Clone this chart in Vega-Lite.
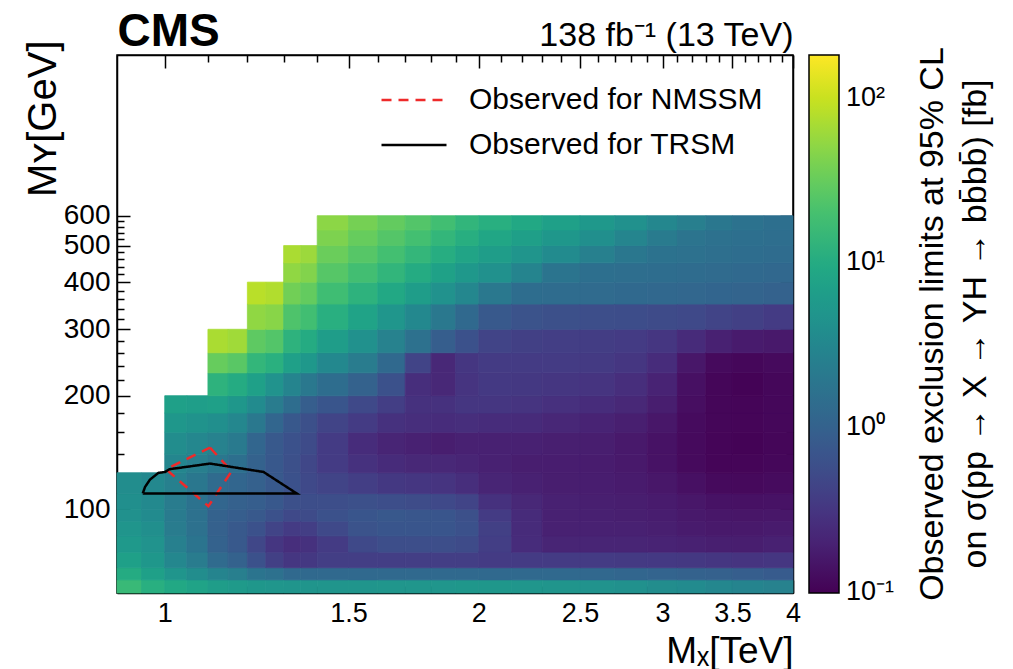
{
"$schema": "https://vega.github.io/schema/vega-lite/v6.json",
"width": 676,
"height": 538,
"autosize": {"type": "none"},
"padding": {"left": 117, "top": 55, "right": 220, "bottom": 76},
"background": "white",
"config": {
  "font": "Liberation Sans",
  "view": {"stroke": "black", "strokeWidth": 1.5},
  "axis": {"grid": false, "zindex": 1, "domainColor": "black", "domainWidth": 1.5, "tickColor": "black", "tickWidth": 1.5, "labelColor": "black", "titleColor": "black", "labelFontSize": 27, "titleFontSize": 40, "titleFontWeight": "normal", "labelFont": "Liberation Sans", "titleFont": "Liberation Sans", "labelFlush": false, "labelOverlap": false},
  "legend": {"labelFont": "Liberation Sans", "labelColor": "black"}
},
"title": {
  "text": ["Observed exclusion limits at 95% CL", "on σ(pp → X → YH → bb̄bb̄) [fb]"],
  "orient": "right", "angle": -90, "baseline": "top", "anchor": "middle", "frame": "group",
  "fontSize": 34, "fontWeight": "normal", "font": "Liberation Sans", "color": "black", "offset": -56, "lineHeight": 43
},
"resolve": {"axis": {"x": "independent", "y": "independent"}, "scale": {"stroke": "independent", "strokeDash": "independent"}},
"datasets": {
"grid": [
{"x":0.9,"x2":0.95,"y":60,"y2":65,"fb":15.8},{"x":0.9,"x2":0.95,"y":65,"y2":70,"fb":10},{"x":0.9,"x2":0.95,"y":70,"y2":77,"fb":7.08},{"x":0.9,"x2":0.95,"y":77,"y2":85,"fb":5.62},{"x":0.9,"x2":0.95,"y":85,"y2":93,"fb":4.79},{"x":0.9,"x2":0.95,"y":93,"y2":100,"fb":4.27},{"x":0.9,"x2":0.95,"y":100,"y2":110,"fb":3.98},{"x":0.9,"x2":0.95,"y":110,"y2":125,"fb":3.8},
{"x":0.95,"x2":1.0,"y":60,"y2":65,"fb":11.2},{"x":0.95,"x2":1.0,"y":65,"y2":70,"fb":7.08},{"x":0.95,"x2":1.0,"y":70,"y2":77,"fb":5.25},{"x":0.95,"x2":1.0,"y":77,"y2":85,"fb":4.47},{"x":0.95,"x2":1.0,"y":85,"y2":93,"fb":3.98},{"x":0.95,"x2":1.0,"y":93,"y2":100,"fb":3.55},{"x":0.95,"x2":1.0,"y":100,"y2":110,"fb":3.39},{"x":0.95,"x2":1.0,"y":110,"y2":125,"fb":3.31},
{"x":1.0,"x2":1.05,"y":60,"y2":65,"fb":8.91},{"x":1.0,"x2":1.05,"y":65,"y2":70,"fb":4.79},{"x":1.0,"x2":1.05,"y":70,"y2":77,"fb":3.16},{"x":1.0,"x2":1.05,"y":77,"y2":85,"fb":2.51},{"x":1.0,"x2":1.05,"y":85,"y2":93,"fb":2.24},{"x":1.0,"x2":1.05,"y":93,"y2":100,"fb":2.14},{"x":1.0,"x2":1.05,"y":100,"y2":110,"fb":2.24},{"x":1.0,"x2":1.05,"y":110,"y2":125,"fb":2.51},{"x":1.0,"x2":1.05,"y":125,"y2":140,"fb":3.02},{"x":1.0,"x2":1.05,"y":140,"y2":160,"fb":3.8},{"x":1.0,"x2":1.05,"y":160,"y2":180,"fb":5.25},{"x":1.0,"x2":1.05,"y":180,"y2":200,"fb":7.08},
{"x":1.05,"x2":1.1,"y":60,"y2":65,"fb":7.59},{"x":1.05,"x2":1.1,"y":65,"y2":70,"fb":3.8},{"x":1.05,"x2":1.1,"y":70,"y2":77,"fb":2.24},{"x":1.05,"x2":1.1,"y":77,"y2":85,"fb":1.78},{"x":1.05,"x2":1.1,"y":85,"y2":93,"fb":1.58},{"x":1.05,"x2":1.1,"y":93,"y2":100,"fb":1.58},{"x":1.05,"x2":1.1,"y":100,"y2":110,"fb":1.66},{"x":1.05,"x2":1.1,"y":110,"y2":125,"fb":1.91},{"x":1.05,"x2":1.1,"y":125,"y2":140,"fb":2.4},{"x":1.05,"x2":1.1,"y":140,"y2":160,"fb":3.16},{"x":1.05,"x2":1.1,"y":160,"y2":180,"fb":4.57},{"x":1.05,"x2":1.1,"y":180,"y2":200,"fb":6.61},
{"x":1.1,"x2":1.15,"y":60,"y2":65,"fb":6.31},{"x":1.1,"x2":1.15,"y":65,"y2":70,"fb":2.82},{"x":1.1,"x2":1.15,"y":70,"y2":77,"fb":1.32},{"x":1.1,"x2":1.15,"y":77,"y2":85,"fb":1.0},{"x":1.1,"x2":1.15,"y":85,"y2":93,"fb":0.955},{"x":1.1,"x2":1.15,"y":93,"y2":100,"fb":1.0},{"x":1.1,"x2":1.15,"y":100,"y2":110,"fb":1.12},{"x":1.1,"x2":1.15,"y":110,"y2":125,"fb":1.32},{"x":1.1,"x2":1.15,"y":125,"y2":140,"fb":1.91},{"x":1.1,"x2":1.15,"y":140,"y2":160,"fb":2.63},{"x":1.1,"x2":1.15,"y":160,"y2":180,"fb":3.98},{"x":1.1,"x2":1.15,"y":180,"y2":200,"fb":7.08},{"x":1.1,"x2":1.15,"y":200,"y2":230,"fb":12.6},{"x":1.1,"x2":1.15,"y":230,"y2":260,"fb":31.6},{"x":1.1,"x2":1.15,"y":260,"y2":300,"fb":70.8},
{"x":1.15,"x2":1.2,"y":60,"y2":65,"fb":5.75},{"x":1.15,"x2":1.2,"y":65,"y2":70,"fb":2.4},{"x":1.15,"x2":1.2,"y":70,"y2":77,"fb":1.0},{"x":1.15,"x2":1.2,"y":77,"y2":85,"fb":0.794},{"x":1.15,"x2":1.2,"y":85,"y2":93,"fb":0.794},{"x":1.15,"x2":1.2,"y":93,"y2":100,"fb":0.891},{"x":1.15,"x2":1.2,"y":100,"y2":110,"fb":0.955},{"x":1.15,"x2":1.2,"y":110,"y2":125,"fb":1.12},{"x":1.15,"x2":1.2,"y":125,"y2":140,"fb":1.51},{"x":1.15,"x2":1.2,"y":140,"y2":160,"fb":2.09},{"x":1.15,"x2":1.2,"y":160,"y2":180,"fb":3.16},{"x":1.15,"x2":1.2,"y":180,"y2":200,"fb":5.25},{"x":1.15,"x2":1.2,"y":200,"y2":230,"fb":10},{"x":1.15,"x2":1.2,"y":230,"y2":260,"fb":26.3},{"x":1.15,"x2":1.2,"y":260,"y2":300,"fb":63.1},
{"x":1.2,"x2":1.25,"y":60,"y2":65,"fb":5.25},{"x":1.2,"x2":1.25,"y":65,"y2":70,"fb":1.78},{"x":1.2,"x2":1.25,"y":70,"y2":77,"fb":0.631},{"x":1.2,"x2":1.25,"y":77,"y2":85,"fb":0.479},{"x":1.2,"x2":1.25,"y":85,"y2":93,"fb":0.631},{"x":1.2,"x2":1.25,"y":93,"y2":100,"fb":0.794},{"x":1.2,"x2":1.25,"y":100,"y2":110,"fb":0.891},{"x":1.2,"x2":1.25,"y":110,"y2":125,"fb":0.955},{"x":1.2,"x2":1.25,"y":125,"y2":140,"fb":1.0},{"x":1.2,"x2":1.25,"y":140,"y2":160,"fb":1.12},{"x":1.2,"x2":1.25,"y":160,"y2":180,"fb":2.0},{"x":1.2,"x2":1.25,"y":180,"y2":200,"fb":3.55},{"x":1.2,"x2":1.25,"y":200,"y2":230,"fb":7.08},{"x":1.2,"x2":1.25,"y":230,"y2":260,"fb":14.1},{"x":1.2,"x2":1.25,"y":260,"y2":300,"fb":28.2},{"x":1.2,"x2":1.25,"y":300,"y2":350,"fb":52.5},{"x":1.2,"x2":1.25,"y":350,"y2":400,"fb":83.2},
{"x":1.25,"x2":1.3,"y":60,"y2":65,"fb":5.01},{"x":1.25,"x2":1.3,"y":65,"y2":70,"fb":1.58},{"x":1.25,"x2":1.3,"y":70,"y2":77,"fb":0.398},{"x":1.25,"x2":1.3,"y":77,"y2":85,"fb":0.316},{"x":1.25,"x2":1.3,"y":85,"y2":93,"fb":0.447},{"x":1.25,"x2":1.3,"y":93,"y2":100,"fb":0.631},{"x":1.25,"x2":1.3,"y":100,"y2":110,"fb":0.759},{"x":1.25,"x2":1.3,"y":110,"y2":125,"fb":0.794},{"x":1.25,"x2":1.3,"y":125,"y2":140,"fb":0.759},{"x":1.25,"x2":1.3,"y":140,"y2":160,"fb":0.794},{"x":1.25,"x2":1.3,"y":160,"y2":180,"fb":1.12},{"x":1.25,"x2":1.3,"y":180,"y2":200,"fb":2.24},{"x":1.25,"x2":1.3,"y":200,"y2":230,"fb":4.47},{"x":1.25,"x2":1.3,"y":230,"y2":260,"fb":11.5},{"x":1.25,"x2":1.3,"y":260,"y2":300,"fb":24},{"x":1.25,"x2":1.3,"y":300,"y2":350,"fb":47.9},{"x":1.25,"x2":1.3,"y":350,"y2":400,"fb":75.9},
{"x":1.3,"x2":1.35,"y":60,"y2":65,"fb":4.79},{"x":1.3,"x2":1.35,"y":65,"y2":70,"fb":1.26},{"x":1.3,"x2":1.35,"y":70,"y2":77,"fb":0.316},{"x":1.3,"x2":1.35,"y":77,"y2":85,"fb":0.263},{"x":1.3,"x2":1.35,"y":85,"y2":93,"fb":0.355},{"x":1.3,"x2":1.35,"y":93,"y2":100,"fb":0.501},{"x":1.3,"x2":1.35,"y":100,"y2":110,"fb":0.603},{"x":1.3,"x2":1.35,"y":110,"y2":125,"fb":0.631},{"x":1.3,"x2":1.35,"y":125,"y2":140,"fb":0.603},{"x":1.3,"x2":1.35,"y":140,"y2":160,"fb":0.631},{"x":1.3,"x2":1.35,"y":160,"y2":180,"fb":0.759},{"x":1.3,"x2":1.35,"y":180,"y2":200,"fb":1.41},{"x":1.3,"x2":1.35,"y":200,"y2":230,"fb":2.82},{"x":1.3,"x2":1.35,"y":230,"y2":260,"fb":7.08},{"x":1.3,"x2":1.35,"y":260,"y2":300,"fb":12.6},{"x":1.3,"x2":1.35,"y":300,"y2":350,"fb":22.4},{"x":1.3,"x2":1.35,"y":350,"y2":400,"fb":36.3},{"x":1.3,"x2":1.35,"y":400,"y2":450,"fb":52.5},{"x":1.3,"x2":1.35,"y":450,"y2":500,"fb":70.8},
{"x":1.35,"x2":1.4,"y":60,"y2":65,"fb":4.79},{"x":1.35,"x2":1.4,"y":65,"y2":70,"fb":1.26},{"x":1.35,"x2":1.4,"y":70,"y2":77,"fb":0.331},{"x":1.35,"x2":1.4,"y":77,"y2":85,"fb":0.282},{"x":1.35,"x2":1.4,"y":85,"y2":93,"fb":0.38},{"x":1.35,"x2":1.4,"y":93,"y2":100,"fb":0.525},{"x":1.35,"x2":1.4,"y":100,"y2":110,"fb":0.575},{"x":1.35,"x2":1.4,"y":110,"y2":125,"fb":0.501},{"x":1.35,"x2":1.4,"y":125,"y2":140,"fb":0.479},{"x":1.35,"x2":1.4,"y":140,"y2":160,"fb":0.525},{"x":1.35,"x2":1.4,"y":160,"y2":180,"fb":0.603},{"x":1.35,"x2":1.4,"y":180,"y2":200,"fb":0.891},{"x":1.35,"x2":1.4,"y":200,"y2":230,"fb":2.0},{"x":1.35,"x2":1.4,"y":230,"y2":260,"fb":5.5},{"x":1.35,"x2":1.4,"y":260,"y2":300,"fb":10},{"x":1.35,"x2":1.4,"y":300,"y2":350,"fb":18.2},{"x":1.35,"x2":1.4,"y":350,"y2":400,"fb":30.2},{"x":1.35,"x2":1.4,"y":400,"y2":450,"fb":44.7},{"x":1.35,"x2":1.4,"y":450,"y2":500,"fb":60.3},
{"x":1.4,"x2":1.5,"y":60,"y2":65,"fb":4.79},{"x":1.4,"x2":1.5,"y":65,"y2":70,"fb":1.26},{"x":1.4,"x2":1.5,"y":70,"y2":77,"fb":0.38},{"x":1.4,"x2":1.5,"y":77,"y2":85,"fb":0.355},{"x":1.4,"x2":1.5,"y":85,"y2":93,"fb":0.501},{"x":1.4,"x2":1.5,"y":93,"y2":100,"fb":0.631},{"x":1.4,"x2":1.5,"y":100,"y2":110,"fb":0.562},{"x":1.4,"x2":1.5,"y":110,"y2":125,"fb":0.447},{"x":1.4,"x2":1.5,"y":125,"y2":140,"fb":0.355},{"x":1.4,"x2":1.5,"y":140,"y2":160,"fb":0.355},{"x":1.4,"x2":1.5,"y":160,"y2":180,"fb":0.447},{"x":1.4,"x2":1.5,"y":180,"y2":200,"fb":0.708},{"x":1.4,"x2":1.5,"y":200,"y2":230,"fb":1.41},{"x":1.4,"x2":1.5,"y":230,"y2":260,"fb":3.31},{"x":1.4,"x2":1.5,"y":260,"y2":300,"fb":6.31},{"x":1.4,"x2":1.5,"y":300,"y2":350,"fb":11.2},{"x":1.4,"x2":1.5,"y":350,"y2":400,"fb":17.8},{"x":1.4,"x2":1.5,"y":400,"y2":450,"fb":25.1},{"x":1.4,"x2":1.5,"y":450,"y2":500,"fb":33.1},{"x":1.4,"x2":1.5,"y":500,"y2":550,"fb":41.7},{"x":1.4,"x2":1.5,"y":550,"y2":600,"fb":50.1},
{"x":1.5,"x2":1.6,"y":60,"y2":65,"fb":4.79},{"x":1.5,"x2":1.6,"y":65,"y2":70,"fb":1.26},{"x":1.5,"x2":1.6,"y":70,"y2":77,"fb":0.38},{"x":1.5,"x2":1.6,"y":77,"y2":85,"fb":0.501},{"x":1.5,"x2":1.6,"y":85,"y2":93,"fb":0.661},{"x":1.5,"x2":1.6,"y":93,"y2":100,"fb":0.708},{"x":1.5,"x2":1.6,"y":100,"y2":110,"fb":0.603},{"x":1.5,"x2":1.6,"y":110,"y2":125,"fb":0.38},{"x":1.5,"x2":1.6,"y":125,"y2":140,"fb":0.282},{"x":1.5,"x2":1.6,"y":140,"y2":160,"fb":0.251},{"x":1.5,"x2":1.6,"y":160,"y2":180,"fb":0.355},{"x":1.5,"x2":1.6,"y":180,"y2":200,"fb":0.501},{"x":1.5,"x2":1.6,"y":200,"y2":230,"fb":1.0},{"x":1.5,"x2":1.6,"y":230,"y2":260,"fb":2.24},{"x":1.5,"x2":1.6,"y":260,"y2":300,"fb":4.27},{"x":1.5,"x2":1.6,"y":300,"y2":350,"fb":7.59},{"x":1.5,"x2":1.6,"y":350,"y2":400,"fb":12.6},{"x":1.5,"x2":1.6,"y":400,"y2":450,"fb":18.6},{"x":1.5,"x2":1.6,"y":450,"y2":500,"fb":25.1},{"x":1.5,"x2":1.6,"y":500,"y2":550,"fb":31.6},{"x":1.5,"x2":1.6,"y":550,"y2":600,"fb":38},
{"x":1.6,"x2":1.7,"y":60,"y2":65,"fb":5.01},{"x":1.6,"x2":1.7,"y":65,"y2":70,"fb":1.26},{"x":1.6,"x2":1.7,"y":70,"y2":77,"fb":0.38},{"x":1.6,"x2":1.7,"y":77,"y2":85,"fb":0.562},{"x":1.6,"x2":1.7,"y":85,"y2":93,"fb":0.708},{"x":1.6,"x2":1.7,"y":93,"y2":100,"fb":0.759},{"x":1.6,"x2":1.7,"y":100,"y2":110,"fb":0.562},{"x":1.6,"x2":1.7,"y":110,"y2":125,"fb":0.331},{"x":1.6,"x2":1.7,"y":125,"y2":140,"fb":0.24},{"x":1.6,"x2":1.7,"y":140,"y2":160,"fb":0.209},{"x":1.6,"x2":1.7,"y":160,"y2":180,"fb":0.282},{"x":1.6,"x2":1.7,"y":180,"y2":200,"fb":0.38},{"x":1.6,"x2":1.7,"y":200,"y2":230,"fb":0.631},{"x":1.6,"x2":1.7,"y":230,"y2":260,"fb":1.26},{"x":1.6,"x2":1.7,"y":260,"y2":300,"fb":2.63},{"x":1.6,"x2":1.7,"y":300,"y2":350,"fb":5.01},{"x":1.6,"x2":1.7,"y":350,"y2":400,"fb":8.91},{"x":1.6,"x2":1.7,"y":400,"y2":450,"fb":13.8},{"x":1.6,"x2":1.7,"y":450,"y2":500,"fb":19.1},{"x":1.6,"x2":1.7,"y":500,"y2":550,"fb":24.5},{"x":1.6,"x2":1.7,"y":550,"y2":600,"fb":30.2},
{"x":1.7,"x2":1.8,"y":60,"y2":65,"fb":5.01},{"x":1.7,"x2":1.8,"y":65,"y2":70,"fb":1.26},{"x":1.7,"x2":1.8,"y":70,"y2":77,"fb":0.38},{"x":1.7,"x2":1.8,"y":77,"y2":85,"fb":0.562},{"x":1.7,"x2":1.8,"y":85,"y2":93,"fb":0.708},{"x":1.7,"x2":1.8,"y":93,"y2":100,"fb":0.724},{"x":1.7,"x2":1.8,"y":100,"y2":110,"fb":0.537},{"x":1.7,"x2":1.8,"y":110,"y2":125,"fb":0.316},{"x":1.7,"x2":1.8,"y":125,"y2":140,"fb":0.224},{"x":1.7,"x2":1.8,"y":140,"y2":160,"fb":0.191},{"x":1.7,"x2":1.8,"y":160,"y2":180,"fb":0.263},{"x":1.7,"x2":1.8,"y":180,"y2":200,"fb":0.282},{"x":1.7,"x2":1.8,"y":200,"y2":230,"fb":0.263},{"x":1.7,"x2":1.8,"y":230,"y2":260,"fb":0.447},{"x":1.7,"x2":1.8,"y":260,"y2":300,"fb":1.58},{"x":1.7,"x2":1.8,"y":300,"y2":350,"fb":3.31},{"x":1.7,"x2":1.8,"y":350,"y2":400,"fb":6.31},{"x":1.7,"x2":1.8,"y":400,"y2":450,"fb":10},{"x":1.7,"x2":1.8,"y":450,"y2":500,"fb":14.5},{"x":1.7,"x2":1.8,"y":500,"y2":550,"fb":19.1},{"x":1.7,"x2":1.8,"y":550,"y2":600,"fb":24},
{"x":1.8,"x2":1.9,"y":60,"y2":65,"fb":5.01},{"x":1.8,"x2":1.9,"y":65,"y2":70,"fb":1.26},{"x":1.8,"x2":1.9,"y":70,"y2":77,"fb":0.38},{"x":1.8,"x2":1.9,"y":77,"y2":85,"fb":0.562},{"x":1.8,"x2":1.9,"y":85,"y2":93,"fb":0.708},{"x":1.8,"x2":1.9,"y":93,"y2":100,"fb":0.708},{"x":1.8,"x2":1.9,"y":100,"y2":110,"fb":0.501},{"x":1.8,"x2":1.9,"y":110,"y2":125,"fb":0.302},{"x":1.8,"x2":1.9,"y":125,"y2":140,"fb":0.224},{"x":1.8,"x2":1.9,"y":140,"y2":160,"fb":0.178},{"x":1.8,"x2":1.9,"y":160,"y2":180,"fb":0.251},{"x":1.8,"x2":1.9,"y":180,"y2":200,"fb":0.282},{"x":1.8,"x2":1.9,"y":200,"y2":230,"fb":0.224},{"x":1.8,"x2":1.9,"y":230,"y2":260,"fb":0.224},{"x":1.8,"x2":1.9,"y":260,"y2":300,"fb":0.891},{"x":1.8,"x2":1.9,"y":300,"y2":350,"fb":2.0},{"x":1.8,"x2":1.9,"y":350,"y2":400,"fb":4.37},{"x":1.8,"x2":1.9,"y":400,"y2":450,"fb":7.24},{"x":1.8,"x2":1.9,"y":450,"y2":500,"fb":10.5},{"x":1.8,"x2":1.9,"y":500,"y2":550,"fb":14.1},{"x":1.8,"x2":1.9,"y":550,"y2":600,"fb":18.2},
{"x":1.9,"x2":2.0,"y":60,"y2":65,"fb":5.25},{"x":1.9,"x2":2.0,"y":65,"y2":70,"fb":1.26},{"x":1.9,"x2":2.0,"y":70,"y2":77,"fb":0.38},{"x":1.9,"x2":2.0,"y":77,"y2":85,"fb":0.525},{"x":1.9,"x2":2.0,"y":85,"y2":93,"fb":0.631},{"x":1.9,"x2":2.0,"y":93,"y2":100,"fb":0.603},{"x":1.9,"x2":2.0,"y":100,"y2":110,"fb":0.447},{"x":1.9,"x2":2.0,"y":110,"y2":125,"fb":0.263},{"x":1.9,"x2":2.0,"y":125,"y2":140,"fb":0.209},{"x":1.9,"x2":2.0,"y":140,"y2":160,"fb":0.191},{"x":1.9,"x2":2.0,"y":160,"y2":180,"fb":0.263},{"x":1.9,"x2":2.0,"y":180,"y2":200,"fb":0.316},{"x":1.9,"x2":2.0,"y":200,"y2":230,"fb":0.302},{"x":1.9,"x2":2.0,"y":230,"y2":260,"fb":0.316},{"x":1.9,"x2":2.0,"y":260,"y2":300,"fb":0.631},{"x":1.9,"x2":2.0,"y":300,"y2":350,"fb":1.26},{"x":1.9,"x2":2.0,"y":350,"y2":400,"fb":3.16},{"x":1.9,"x2":2.0,"y":400,"y2":450,"fb":5.5},{"x":1.9,"x2":2.0,"y":450,"y2":500,"fb":7.94},{"x":1.9,"x2":2.0,"y":500,"y2":550,"fb":10.7},{"x":1.9,"x2":2.0,"y":550,"y2":600,"fb":13.8},
{"x":2.0,"x2":2.15,"y":60,"y2":65,"fb":5.25},{"x":2.0,"x2":2.15,"y":65,"y2":70,"fb":1.26},{"x":2.0,"x2":2.15,"y":70,"y2":77,"fb":0.355},{"x":2.0,"x2":2.15,"y":77,"y2":85,"fb":0.38},{"x":2.0,"x2":2.15,"y":85,"y2":93,"fb":0.398},{"x":2.0,"x2":2.15,"y":93,"y2":100,"fb":0.355},{"x":2.0,"x2":2.15,"y":100,"y2":110,"fb":0.282},{"x":2.0,"x2":2.15,"y":110,"y2":125,"fb":0.209},{"x":2.0,"x2":2.15,"y":125,"y2":140,"fb":0.191},{"x":2.0,"x2":2.15,"y":140,"y2":160,"fb":0.191},{"x":2.0,"x2":2.15,"y":160,"y2":180,"fb":0.251},{"x":2.0,"x2":2.15,"y":180,"y2":200,"fb":0.316},{"x":2.0,"x2":2.15,"y":200,"y2":230,"fb":0.339},{"x":2.0,"x2":2.15,"y":230,"y2":260,"fb":0.355},{"x":2.0,"x2":2.15,"y":260,"y2":300,"fb":0.447},{"x":2.0,"x2":2.15,"y":300,"y2":350,"fb":0.794},{"x":2.0,"x2":2.15,"y":350,"y2":400,"fb":2.0},{"x":2.0,"x2":2.15,"y":400,"y2":450,"fb":4.17},{"x":2.0,"x2":2.15,"y":450,"y2":500,"fb":6.31},{"x":2.0,"x2":2.15,"y":500,"y2":550,"fb":8.51},{"x":2.0,"x2":2.15,"y":550,"y2":600,"fb":11},
{"x":2.15,"x2":2.3,"y":60,"y2":65,"fb":5.01},{"x":2.15,"x2":2.3,"y":65,"y2":70,"fb":1.26},{"x":2.15,"x2":2.3,"y":70,"y2":77,"fb":0.355},{"x":2.15,"x2":2.3,"y":77,"y2":85,"fb":0.251},{"x":2.15,"x2":2.3,"y":85,"y2":93,"fb":0.24},{"x":2.15,"x2":2.3,"y":93,"y2":100,"fb":0.24},{"x":2.15,"x2":2.3,"y":100,"y2":110,"fb":0.224},{"x":2.15,"x2":2.3,"y":110,"y2":125,"fb":0.191},{"x":2.15,"x2":2.3,"y":125,"y2":140,"fb":0.178},{"x":2.15,"x2":2.3,"y":140,"y2":160,"fb":0.191},{"x":2.15,"x2":2.3,"y":160,"y2":180,"fb":0.24},{"x":2.15,"x2":2.3,"y":180,"y2":200,"fb":0.302},{"x":2.15,"x2":2.3,"y":200,"y2":230,"fb":0.331},{"x":2.15,"x2":2.3,"y":230,"y2":260,"fb":0.355},{"x":2.15,"x2":2.3,"y":260,"y2":300,"fb":0.398},{"x":2.15,"x2":2.3,"y":300,"y2":350,"fb":0.661},{"x":2.15,"x2":2.3,"y":350,"y2":400,"fb":1.41},{"x":2.15,"x2":2.3,"y":400,"y2":450,"fb":2.82},{"x":2.15,"x2":2.3,"y":450,"y2":500,"fb":4.79},{"x":2.15,"x2":2.3,"y":500,"y2":550,"fb":6.76},{"x":2.15,"x2":2.3,"y":550,"y2":600,"fb":8.91},
{"x":2.3,"x2":2.5,"y":60,"y2":65,"fb":4.79},{"x":2.3,"x2":2.5,"y":65,"y2":70,"fb":1.26},{"x":2.3,"x2":2.5,"y":70,"y2":77,"fb":0.355},{"x":2.3,"x2":2.5,"y":77,"y2":85,"fb":0.209},{"x":2.3,"x2":2.5,"y":85,"y2":93,"fb":0.191},{"x":2.3,"x2":2.5,"y":93,"y2":100,"fb":0.191},{"x":2.3,"x2":2.5,"y":100,"y2":110,"fb":0.191},{"x":2.3,"x2":2.5,"y":110,"y2":125,"fb":0.178},{"x":2.3,"x2":2.5,"y":125,"y2":140,"fb":0.174},{"x":2.3,"x2":2.5,"y":140,"y2":160,"fb":0.182},{"x":2.3,"x2":2.5,"y":160,"y2":180,"fb":0.219},{"x":2.3,"x2":2.5,"y":180,"y2":200,"fb":0.275},{"x":2.3,"x2":2.5,"y":200,"y2":230,"fb":0.316},{"x":2.3,"x2":2.5,"y":230,"y2":260,"fb":0.355},{"x":2.3,"x2":2.5,"y":260,"y2":300,"fb":0.38},{"x":2.3,"x2":2.5,"y":300,"y2":350,"fb":0.603},{"x":2.3,"x2":2.5,"y":350,"y2":400,"fb":1.35},{"x":2.3,"x2":2.5,"y":400,"y2":450,"fb":1.78},{"x":2.3,"x2":2.5,"y":450,"y2":500,"fb":3.55},{"x":2.3,"x2":2.5,"y":500,"y2":550,"fb":5.25},{"x":2.3,"x2":2.5,"y":550,"y2":600,"fb":7.08},
{"x":2.5,"x2":2.7,"y":60,"y2":65,"fb":4.47},{"x":2.5,"x2":2.7,"y":65,"y2":70,"fb":1.2},{"x":2.5,"x2":2.7,"y":70,"y2":77,"fb":0.355},{"x":2.5,"x2":2.7,"y":77,"y2":85,"fb":0.209},{"x":2.5,"x2":2.7,"y":85,"y2":93,"fb":0.191},{"x":2.5,"x2":2.7,"y":93,"y2":100,"fb":0.186},{"x":2.5,"x2":2.7,"y":100,"y2":110,"fb":0.182},{"x":2.5,"x2":2.7,"y":110,"y2":125,"fb":0.174},{"x":2.5,"x2":2.7,"y":125,"y2":140,"fb":0.17},{"x":2.5,"x2":2.7,"y":140,"y2":160,"fb":0.178},{"x":2.5,"x2":2.7,"y":160,"y2":180,"fb":0.2},{"x":2.5,"x2":2.7,"y":180,"y2":200,"fb":0.251},{"x":2.5,"x2":2.7,"y":200,"y2":230,"fb":0.302},{"x":2.5,"x2":2.7,"y":230,"y2":260,"fb":0.347},{"x":2.5,"x2":2.7,"y":260,"y2":300,"fb":0.372},{"x":2.5,"x2":2.7,"y":300,"y2":350,"fb":0.562},{"x":2.5,"x2":2.7,"y":350,"y2":400,"fb":1.32},{"x":2.5,"x2":2.7,"y":400,"y2":450,"fb":1.51},{"x":2.5,"x2":2.7,"y":450,"y2":500,"fb":2.51},{"x":2.5,"x2":2.7,"y":500,"y2":550,"fb":3.98},{"x":2.5,"x2":2.7,"y":550,"y2":600,"fb":5.37},
{"x":2.7,"x2":2.9,"y":60,"y2":65,"fb":4.17},{"x":2.7,"x2":2.9,"y":65,"y2":70,"fb":1.12},{"x":2.7,"x2":2.9,"y":70,"y2":77,"fb":0.347},{"x":2.7,"x2":2.9,"y":77,"y2":85,"fb":0.209},{"x":2.7,"x2":2.9,"y":85,"y2":93,"fb":0.191},{"x":2.7,"x2":2.9,"y":93,"y2":100,"fb":0.182},{"x":2.7,"x2":2.9,"y":100,"y2":110,"fb":0.178},{"x":2.7,"x2":2.9,"y":110,"y2":125,"fb":0.166},{"x":2.7,"x2":2.9,"y":125,"y2":140,"fb":0.158},{"x":2.7,"x2":2.9,"y":140,"y2":160,"fb":0.158},{"x":2.7,"x2":2.9,"y":160,"y2":180,"fb":0.182},{"x":2.7,"x2":2.9,"y":180,"y2":200,"fb":0.224},{"x":2.7,"x2":2.9,"y":200,"y2":230,"fb":0.263},{"x":2.7,"x2":2.9,"y":230,"y2":260,"fb":0.316},{"x":2.7,"x2":2.9,"y":260,"y2":300,"fb":0.355},{"x":2.7,"x2":2.9,"y":300,"y2":350,"fb":0.55},{"x":2.7,"x2":2.9,"y":350,"y2":400,"fb":1.26},{"x":2.7,"x2":2.9,"y":400,"y2":450,"fb":1.45},{"x":2.7,"x2":2.9,"y":450,"y2":500,"fb":1.91},{"x":2.7,"x2":2.9,"y":500,"y2":550,"fb":2.95},{"x":2.7,"x2":2.9,"y":550,"y2":600,"fb":4.17},
{"x":2.9,"x2":3.1,"y":60,"y2":65,"fb":3.8},{"x":2.9,"x2":3.1,"y":65,"y2":70,"fb":1.07},{"x":2.9,"x2":3.1,"y":70,"y2":77,"fb":0.339},{"x":2.9,"x2":3.1,"y":77,"y2":85,"fb":0.2},{"x":2.9,"x2":3.1,"y":85,"y2":93,"fb":0.182},{"x":2.9,"x2":3.1,"y":93,"y2":100,"fb":0.174},{"x":2.9,"x2":3.1,"y":100,"y2":110,"fb":0.166},{"x":2.9,"x2":3.1,"y":110,"y2":125,"fb":0.151},{"x":2.9,"x2":3.1,"y":125,"y2":140,"fb":0.138},{"x":2.9,"x2":3.1,"y":140,"y2":160,"fb":0.138},{"x":2.9,"x2":3.1,"y":160,"y2":180,"fb":0.151},{"x":2.9,"x2":3.1,"y":180,"y2":200,"fb":0.178},{"x":2.9,"x2":3.1,"y":200,"y2":230,"fb":0.2},{"x":2.9,"x2":3.1,"y":230,"y2":260,"fb":0.251},{"x":2.9,"x2":3.1,"y":260,"y2":300,"fb":0.316},{"x":2.9,"x2":3.1,"y":300,"y2":350,"fb":0.525},{"x":2.9,"x2":3.1,"y":350,"y2":400,"fb":1.2},{"x":2.9,"x2":3.1,"y":400,"y2":450,"fb":1.41},{"x":2.9,"x2":3.1,"y":450,"y2":500,"fb":1.66},{"x":2.9,"x2":3.1,"y":500,"y2":550,"fb":2.19},{"x":2.9,"x2":3.1,"y":550,"y2":600,"fb":3.16},
{"x":3.1,"x2":3.3,"y":60,"y2":65,"fb":3.55},{"x":3.1,"x2":3.3,"y":65,"y2":70,"fb":1.0},{"x":3.1,"x2":3.3,"y":70,"y2":77,"fb":0.331},{"x":3.1,"x2":3.3,"y":77,"y2":85,"fb":0.191},{"x":3.1,"x2":3.3,"y":85,"y2":93,"fb":0.166},{"x":3.1,"x2":3.3,"y":93,"y2":100,"fb":0.158},{"x":3.1,"x2":3.3,"y":100,"y2":110,"fb":0.151},{"x":3.1,"x2":3.3,"y":110,"y2":125,"fb":0.132},{"x":3.1,"x2":3.3,"y":125,"y2":140,"fb":0.117},{"x":3.1,"x2":3.3,"y":140,"y2":160,"fb":0.117},{"x":3.1,"x2":3.3,"y":160,"y2":180,"fb":0.12},{"x":3.1,"x2":3.3,"y":180,"y2":200,"fb":0.126},{"x":3.1,"x2":3.3,"y":200,"y2":230,"fb":0.132},{"x":3.1,"x2":3.3,"y":230,"y2":260,"fb":0.151},{"x":3.1,"x2":3.3,"y":260,"y2":300,"fb":0.24},{"x":3.1,"x2":3.3,"y":300,"y2":350,"fb":0.501},{"x":3.1,"x2":3.3,"y":350,"y2":400,"fb":1.15},{"x":3.1,"x2":3.3,"y":400,"y2":450,"fb":1.38},{"x":3.1,"x2":3.3,"y":450,"y2":500,"fb":1.58},{"x":3.1,"x2":3.3,"y":500,"y2":550,"fb":1.74},{"x":3.1,"x2":3.3,"y":550,"y2":600,"fb":2.4},
{"x":3.3,"x2":3.5,"y":60,"y2":65,"fb":3.16},{"x":3.3,"x2":3.5,"y":65,"y2":70,"fb":0.955},{"x":3.3,"x2":3.5,"y":70,"y2":77,"fb":0.316},{"x":3.3,"x2":3.5,"y":77,"y2":85,"fb":0.182},{"x":3.3,"x2":3.5,"y":85,"y2":93,"fb":0.158},{"x":3.3,"x2":3.5,"y":93,"y2":100,"fb":0.151},{"x":3.3,"x2":3.5,"y":100,"y2":110,"fb":0.138},{"x":3.3,"x2":3.5,"y":110,"y2":125,"fb":0.117},{"x":3.3,"x2":3.5,"y":125,"y2":140,"fb":0.105},{"x":3.3,"x2":3.5,"y":140,"y2":160,"fb":0.105},{"x":3.3,"x2":3.5,"y":160,"y2":180,"fb":0.107},{"x":3.3,"x2":3.5,"y":180,"y2":200,"fb":0.107},{"x":3.3,"x2":3.5,"y":200,"y2":230,"fb":0.107},{"x":3.3,"x2":3.5,"y":230,"y2":260,"fb":0.117},{"x":3.3,"x2":3.5,"y":260,"y2":300,"fb":0.191},{"x":3.3,"x2":3.5,"y":300,"y2":350,"fb":0.447},{"x":3.3,"x2":3.5,"y":350,"y2":400,"fb":1.1},{"x":3.3,"x2":3.5,"y":400,"y2":450,"fb":1.32},{"x":3.3,"x2":3.5,"y":450,"y2":500,"fb":1.48},{"x":3.3,"x2":3.5,"y":500,"y2":550,"fb":1.58},{"x":3.3,"x2":3.5,"y":550,"y2":600,"fb":1.91},
{"x":3.5,"x2":3.75,"y":60,"y2":65,"fb":2.88},{"x":3.5,"x2":3.75,"y":65,"y2":70,"fb":0.891},{"x":3.5,"x2":3.75,"y":70,"y2":77,"fb":0.302},{"x":3.5,"x2":3.75,"y":77,"y2":85,"fb":0.178},{"x":3.5,"x2":3.75,"y":85,"y2":93,"fb":0.158},{"x":3.5,"x2":3.75,"y":93,"y2":100,"fb":0.148},{"x":3.5,"x2":3.75,"y":100,"y2":110,"fb":0.135},{"x":3.5,"x2":3.75,"y":110,"y2":125,"fb":0.115},{"x":3.5,"x2":3.75,"y":125,"y2":140,"fb":0.105},{"x":3.5,"x2":3.75,"y":140,"y2":160,"fb":0.102},{"x":3.5,"x2":3.75,"y":160,"y2":180,"fb":0.105},{"x":3.5,"x2":3.75,"y":180,"y2":200,"fb":0.105},{"x":3.5,"x2":3.75,"y":200,"y2":230,"fb":0.102},{"x":3.5,"x2":3.75,"y":230,"y2":260,"fb":0.11},{"x":3.5,"x2":3.75,"y":260,"y2":300,"fb":0.166},{"x":3.5,"x2":3.75,"y":300,"y2":350,"fb":0.398},{"x":3.5,"x2":3.75,"y":350,"y2":400,"fb":1.05},{"x":3.5,"x2":3.75,"y":400,"y2":450,"fb":1.26},{"x":3.5,"x2":3.75,"y":450,"y2":500,"fb":1.41},{"x":3.5,"x2":3.75,"y":500,"y2":550,"fb":1.51},{"x":3.5,"x2":3.75,"y":550,"y2":600,"fb":1.66},
{"x":3.75,"x2":4.0,"y":60,"y2":65,"fb":2.63},{"x":3.75,"x2":4.0,"y":65,"y2":70,"fb":0.832},{"x":3.75,"x2":4.0,"y":70,"y2":77,"fb":0.316},{"x":3.75,"x2":4.0,"y":77,"y2":85,"fb":0.191},{"x":3.75,"x2":4.0,"y":85,"y2":93,"fb":0.166},{"x":3.75,"x2":4.0,"y":93,"y2":100,"fb":0.151},{"x":3.75,"x2":4.0,"y":100,"y2":110,"fb":0.138},{"x":3.75,"x2":4.0,"y":110,"y2":125,"fb":0.12},{"x":3.75,"x2":4.0,"y":125,"y2":140,"fb":0.11},{"x":3.75,"x2":4.0,"y":140,"y2":160,"fb":0.107},{"x":3.75,"x2":4.0,"y":160,"y2":180,"fb":0.11},{"x":3.75,"x2":4.0,"y":180,"y2":200,"fb":0.11},{"x":3.75,"x2":4.0,"y":200,"y2":230,"fb":0.11},{"x":3.75,"x2":4.0,"y":230,"y2":260,"fb":0.117},{"x":3.75,"x2":4.0,"y":260,"y2":300,"fb":0.158},{"x":3.75,"x2":4.0,"y":300,"y2":350,"fb":0.355},{"x":3.75,"x2":4.0,"y":350,"y2":400,"fb":1.0},{"x":3.75,"x2":4.0,"y":400,"y2":450,"fb":1.2},{"x":3.75,"x2":4.0,"y":450,"y2":500,"fb":1.35},{"x":3.75,"x2":4.0,"y":500,"y2":550,"fb":1.45},{"x":3.75,"x2":4.0,"y":550,"y2":600,"fb":1.51}
],
"contours": [
{"model":"Observed for NMSSM","i":0,"x":1.105,"y":145.7},{"model":"Observed for NMSSM","i":1,"x":1.159,"y":126.2},{"model":"Observed for NMSSM","i":2,"x":1.101,"y":101.9},{"model":"Observed for NMSSM","i":3,"x":1.003,"y":127.7},{"model":"Observed for NMSSM","i":4,"x":1.105,"y":145.7},
{"model":"Observed for TRSM","i":0,"x":0.9526,"y":110.1},{"model":"Observed for TRSM","i":1,"x":0.9574,"y":114.6},{"model":"Observed for TRSM","i":2,"x":0.968,"y":119.9},{"model":"Observed for TRSM","i":3,"x":0.9862,"y":124.9},{"model":"Observed for TRSM","i":4,"x":1.0007,"y":125.6},{"model":"Observed for TRSM","i":5,"x":1.0104,"y":127.7},{"model":"Observed for TRSM","i":6,"x":1.105,"y":132.2},{"model":"Observed for TRSM","i":7,"x":1.2435,"y":125.6},{"model":"Observed for TRSM","i":8,"x":1.3383,"y":110.1},{"model":"Observed for TRSM","i":9,"x":0.9526,"y":110.1}
]
},
"layer": [
{
  "data": {"name": "grid"},
  "mark": {"type": "rect", "strokeWidth": 0.8},
  "encoding": {
    "x": {"field": "x", "type": "quantitative", "scale": {"type": "log", "domain": [0.9, 4], "nice": false},
      "axis": {"orient": "bottom", "values": [1, 1.5, 2, 2.5, 3, 3.5, 4], "format": "~g", "tickSize": -13, "labelPadding": 20, "title": "Mₓ[TeV]", "titleFontSize": 37, "titleAnchor": "end", "titleBaseline": "alphabetic", "titleY": 69}},
    "x2": {"field": "x2"},
    "y": {"field": "y", "type": "quantitative", "scale": {"type": "log", "domain": [60, 1600], "nice": false},
      "axis": {"orient": "left", "values": [100, 200, 300, 400, 500, 600], "format": "~g", "labelFontSize": 28, "tickSize": -13, "labelPadding": 20, "title": "Mʏ[GeV]", "titleAnchor": "end", "titleBaseline": "alphabetic", "titleX": -62, "titleY": -15}},
    "y2": {"field": "y2"},
    "color": {"field": "fb", "type": "quantitative", "scale": {"type": "log", "scheme": "viridis", "domain": [0.098, 182], "nice": false},
      "legend": {"orient": "right", "offset": 15, "direction": "vertical", "gradientLength": 538, "gradientThickness": 30, "gradientStrokeColor": "black", "gradientStrokeWidth": 1.5, "title": null, "values": [0.1, 1, 10, 100], "labelExpr": "datum.value < 0.5 ? '10⁻¹' : datum.value < 5 ? '10⁰' : datum.value < 50 ? '10¹' : '10²'", "labelFontSize": 27, "labelOffset": 7, "padding": 0, "labelOverlap": false}},
    "stroke": {"field": "fb", "type": "quantitative", "scale": {"type": "log", "scheme": "viridis", "domain": [0.098, 182], "nice": false}, "legend": null}
  }
},
{
  "data": {"values": []},
  "mark": {"type": "point", "opacity": 0},
  "encoding": {
    "x": {"field": "x", "type": "quantitative", "scale": {"type": "log", "domain": [0.9, 4], "nice": false},
      "axis": {"orient": "top", "values": [1, 1.5, 2, 2.5, 3, 3.5, 4], "labels": false, "tickSize": -13, "title": "CMS", "titleAnchor": "start", "titleFontSize": 46, "titleFontWeight": "bold", "titleBaseline": "alphabetic", "titleY": -10}},
    "y": {"field": "y", "type": "quantitative", "scale": {"type": "log", "domain": [60, 1600], "nice": false},
      "axis": {"orient": "right", "values": [100, 200, 300, 400, 500, 600], "labels": false, "tickSize": -13, "title": null}}
  }
},
{
  "data": {"values": []},
  "mark": {"type": "point", "opacity": 0},
  "encoding": {
    "x": {"field": "x", "type": "quantitative", "scale": {"type": "log", "domain": [0.9, 4], "nice": false},
      "axis": {"orient": "top", "values": [1.1, 1.2, 1.3, 1.4, 1.6, 1.7, 1.8, 1.9, 2.1, 2.2, 2.3, 2.4, 2.6, 2.7, 2.8, 2.9, 3.1, 3.2, 3.3, 3.4, 3.6, 3.7, 3.8, 3.9], "labels": false, "domain": false, "tickSize": -7, "title": "138 fb⁻¹ (13 TeV)", "titleAnchor": "end", "titleFontSize": 34, "titleBaseline": "alphabetic", "titleY": -10}},
    "y": {"field": "y", "type": "quantitative", "scale": {"type": "log", "domain": [60, 1600], "nice": false},
      "axis": {"orient": "right", "values": [80, 120, 140, 160, 180, 220, 240, 260, 280, 320, 340, 360, 380, 420, 440, 460, 480, 520, 540, 560, 580], "labels": false, "domain": false, "tickSize": -7, "title": null}}
  }
},
{
  "data": {"name": "contours"},
  "mark": {"type": "line", "strokeWidth": 2.5, "interpolate": "linear"},
  "encoding": {
    "x": {"field": "x", "type": "quantitative", "scale": {"type": "log", "domain": [0.9, 4], "nice": false},
      "axis": {"orient": "bottom", "values": [1.1, 1.2, 1.3, 1.4, 1.6, 1.7, 1.8, 1.9, 2.1, 2.2, 2.3, 2.4, 2.6, 2.7, 2.8, 2.9, 3.1, 3.2, 3.3, 3.4, 3.6, 3.7, 3.8, 3.9], "labels": false, "domain": false, "tickSize": -7, "title": null}},
    "y": {"field": "y", "type": "quantitative", "scale": {"type": "log", "domain": [60, 1600], "nice": false},
      "axis": {"orient": "left", "values": [80, 120, 140, 160, 180, 220, 240, 260, 280, 320, 340, 360, 380, 420, 440, 460, 480, 520, 540, 560, 580], "labels": false, "domain": false, "tickSize": -7, "title": null}},
    "stroke": {"field": "model", "type": "nominal", "scale": {"domain": ["Observed for NMSSM", "Observed for TRSM"], "range": ["#ee2a2a", "#000000"]},
      "legend": {"orient": "none", "legendX": 263, "legendY": 30, "title": null, "symbolType": "stroke", "symbolSize": 4225, "symbolStrokeWidth": 2.5, "labelFontSize": 30, "labelOffset": 21, "clipHeight": 30, "rowPadding": 15, "padding": 0, "labelLimit": 500}},
    "strokeDash": {"field": "model", "type": "nominal", "scale": {"domain": ["Observed for NMSSM", "Observed for TRSM"], "range": [[10, 7], [1, 0]]},
      "legend": {"orient": "none", "legendX": 263, "legendY": 30, "title": null, "symbolType": "stroke", "symbolSize": 4225, "symbolStrokeWidth": 2.5, "labelFontSize": 30, "labelOffset": 21, "clipHeight": 30, "rowPadding": 15, "padding": 0, "labelLimit": 500}},
    "order": {"field": "i", "type": "quantitative"}
  }
}
]
}
